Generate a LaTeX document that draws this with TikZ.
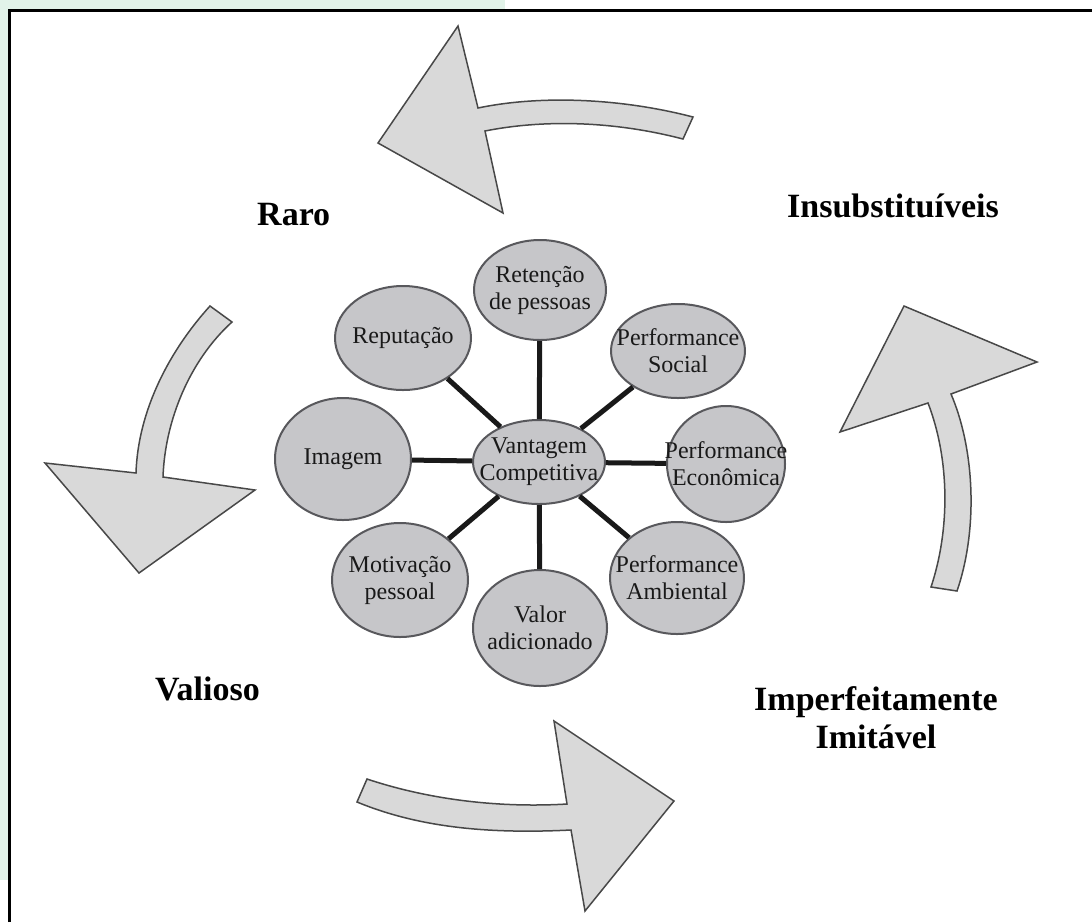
\documentclass[tikz,border=0pt]{standalone}
\usepackage{fontspec}
\setmainfont{Liberation Serif}
\usetikzlibrary{shapes.geometric}
\definecolor{mintbg}{RGB}{226,243,233}
\definecolor{bubblefill}{RGB}{198,198,201}
\definecolor{bubbleline}{RGB}{88,88,92}
\definecolor{arrowfill}{RGB}{217,217,217}
\definecolor{arrowline}{RGB}{72,72,72}
\tikzset{
  bubble/.style={ellipse, draw=bubbleline, fill=bubblefill, line width=2pt, inner sep=0pt},
  btxt/.style={align=center, inner sep=0pt, text=black!90, font=\fontsize{24}{27}\selectfont},
  spoke/.style={line width=5pt, black!90},
  bigarrow/.style={fill=arrowfill, draw=arrowline, line width=1.5pt},
  tag/.style={font=\bfseries\fontsize{34}{38}\selectfont, align=center, inner sep=0pt},
}
\begin{document}
\begin{tikzpicture}[x=1pt, y=-1pt]
  \useasboundingbox (0,0) rectangle (1092,922);
  \fill[white] (0,0) rectangle (1092,922);
  \fill[mintbg] (0,0) rectangle (505,9);
  \fill[mintbg] (0,0) rectangle (8,880);
  \draw[line width=3pt] (9.5,922) -- (9.5,10.5) -- (1092,10.5);

  % curved arrows round the cycle
  \draw[bigarrow] (693,117) .. controls (620,98) and (540,95) .. (478,108) -- (458,26) -- (378,143)
    -- (503,213) -- (485,131) .. controls (540,120) and (610,120) .. (683,139) -- cycle;
  \draw[bigarrow] (210,306) .. controls (170,350) and (138,410) .. (136,473) -- (45,463) -- (139,573)
    -- (255,490) -- (163,477) .. controls (165,420) and (190,360) .. (232,322) -- cycle;
  \draw[bigarrow] (367,779) .. controls (430,800) and (500,808) .. (567,804) -- (554,721) -- (674,801)
    -- (585,911) -- (571,830) .. controls (490,834) and (420,828) .. (357,802) -- cycle;
  \draw[bigarrow] (931,587) .. controls (950,530) and (950,460) .. (928,403) -- (840,432) -- (904,306)
    -- (1037,362) -- (951,394) .. controls (975,450) and (978,530) .. (957,591) -- cycle;

  % bubbles
  \node[bubble, minimum width=132pt, minimum height=84pt, label={[btxt]center:Vantagem\\Competitiva}] (vc) at (539,462) {};
  \node[bubble, minimum width=132pt, minimum height=100pt, label={[btxt]center:Retenção\\de pessoas}] (ret) at (540,290) {};
  \node[bubble, minimum width=136pt, minimum height=104pt, label={[btxt]center:Reputação}] (rep) at (403,338) {};
  \node[bubble, minimum width=134pt, minimum height=94pt, label={[btxt]center:Performance\\Social}] (soc) at (678,351) {};
  \node[bubble, minimum width=136pt, minimum height=122pt, label={[btxt]center:Imagem}] (img) at (343,459) {};
  \node[bubble, minimum width=118pt, minimum height=116pt, label={[btxt]center:Performance\\Econômica}] (eco) at (726,464) {};
  \node[bubble, minimum width=136pt, minimum height=114pt, label={[btxt]center:Motivação\\pessoal}] (mot) at (400,580) {};
  \node[bubble, minimum width=134pt, minimum height=116pt, label={[btxt]center:Valor\\adicionado}] (val) at (540,628) {};
  \node[bubble, minimum width=134pt, minimum height=112pt, label={[btxt]center:Performance\\Ambiental}] (amb) at (677,578) {};

  \foreach \n in {ret,soc,eco,amb,val,mot,img,rep}
    \draw[spoke] (vc) -- (\n);

  % labels of the cycle
  \node[tag, anchor=base west] (raro) at (257,225) {Raro};
  \node[tag, anchor=base west] (insub) at (787,217) {Insubstituíveis};
  \node[tag, anchor=base west] (valioso) at (155,700) {Valioso};
  \node[tag] (imperf) at (876,718) {Imperfeitamente\\Imitável};
\end{tikzpicture}
\end{document}
